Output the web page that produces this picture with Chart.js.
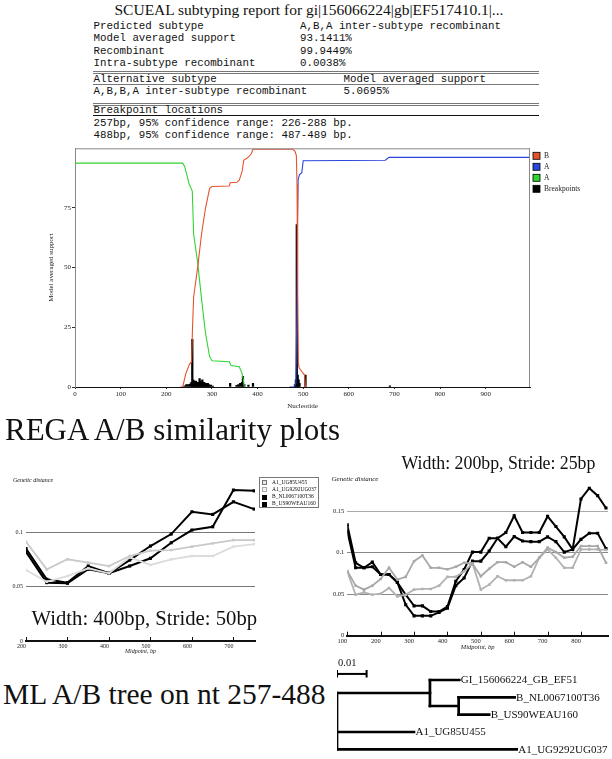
<!DOCTYPE html>
<html><head><meta charset="utf-8">
<script src="https://cdn.jsdelivr.net/npm/chart.js@4.4.1/dist/chart.umd.min.js"></script>
<style>
body{margin:0;background:#fff;width:612px;height:759px;overflow:hidden;position:relative}
.t{position:absolute;white-space:pre;line-height:1;color:#111}
.serif{font-family:"Liberation Serif","Times New Roman",serif}
.mono{font-family:"Liberation Mono","Courier New",monospace;font-size:10.8px}
.rule{position:absolute;left:93px;width:446px}
canvas{position:absolute}
#simLegend{position:absolute;left:259px;top:476.5px;width:58px;height:29px;border:1px solid #777;background:#fff}
</style></head><body>

<div class="t serif" style="left:0;width:618px;text-align:center;top:2.3px;font-size:15.5px">SCUEAL subtyping report for gi|156066224|gb|EF517410.1|...</div>
<div class="t mono" style="left:93.5px;top:20.6px">Predicted subtype</div>
<div class="t mono" style="left:300px;top:20.6px">A,B,A inter-subtype recombinant</div>
<div class="t mono" style="left:93.5px;top:32.6px">Model averaged support</div>
<div class="t mono" style="left:300px;top:32.6px">93.1411%</div>
<div class="t mono" style="left:93.5px;top:45.9px">Recombinant</div>
<div class="t mono" style="left:300px;top:45.9px">99.9449%</div>
<div class="t mono" style="left:93.5px;top:57.6px">Intra-subtype recombinant</div>
<div class="t mono" style="left:300px;top:57.6px">0.0038%</div>
<div class="rule" style="top:71px;border-top:3px double #777"></div>
<div class="t mono" style="left:93.5px;top:73.9px">Alternative subtype</div>
<div class="t mono" style="left:343.5px;top:73.9px">Model averaged support</div>
<div class="rule" style="top:84.2px;border-top:1px solid #777"></div>
<div class="t mono" style="left:93.5px;top:85.6px">A,B,B,A inter-subtype recombinant</div>
<div class="t mono" style="left:343.5px;top:85.6px">5.0695%</div>
<div class="rule" style="top:102.5px;border-top:3px double #777"></div>
<div class="t mono" style="left:93.5px;top:104.9px">Breakpoint locations</div>
<div class="rule" style="top:115px;border-top:1.5px solid #111"></div>
<div class="t mono" style="left:93.5px;top:117.6px">257bp, 95% confidence range: 226-288 bp.</div>
<div class="t mono" style="left:93.5px;top:129.9px">488bp, 95% confidence range: 487-489 bp.</div>

<canvas id="top" width="612" height="280" style="left:0;top:140px"></canvas>

<div class="t serif" style="left:5px;top:414px;font-size:31px">REGA A/B similarity plots</div>

<canvas id="left" width="262" height="190" style="left:0;top:470px"></canvas>
<canvas id="right" width="312" height="190" style="left:300px;top:470px"></canvas>
<div class="t serif" style="left:13px;top:477px;font-size:6px;font-style:italic">Genetic distance</div>
<div class="t serif" style="left:331.5px;top:476px;font-size:7px;font-style:italic">Genetic distance</div>
<div class="t serif" style="left:31.5px;top:608.2px;font-size:20.7px">Width: 400bp, Stride: 50bp</div>
<div class="t serif" style="left:401.5px;top:454.6px;font-size:17.8px">Width: 200bp, Stride: 25bp</div>
<div id="simLegend"></div>

<div class="t serif" style="left:3px;top:680px;font-size:29.5px">ML A/B tree on nt 257-488</div>
<canvas id="tree" width="282" height="105" style="left:330px;top:654px"></canvas>

<script>
// ---- SCUEAL support curves (nucleotide, % support)
var bX = [230, 236, 243, 251, 255.5, 257.5, 260, 269, 277.5, 286, 295, 300, 338, 340, 355, 360, 366, 370, 377, 386, 390, 477, 482, 485, 486.5, 488, 489.5, 491, 497, 503, 505];
var bY = [0, 0, 5.7, 9.6, 10.6, 25, 37.8, 50.4, 64.4, 74.9, 83.2, 84, 84.2, 85.6, 85.8, 86.7, 90.2, 95.1, 95.8, 97.6, 99.6, 99.6, 98.8, 97, 85, 40, 10, 8, 6.5, 5, 0];
var aX = [470, 480, 484, 486, 487.5, 489, 492, 497, 500, 680, 688, 1000];
var aY = [0, 0, 1.5, 30, 70, 87, 89, 89.8, 94.8, 95, 96.2, 96.2];
var gX = [0, 236, 240, 245, 250, 255, 257, 260, 269, 277.5, 286, 295, 300, 338, 342, 360, 366, 369, 371];
var gY = [93.8, 93.8, 92.5, 89, 85, 83, 82, 64, 51.8, 36.5, 22.5, 12.7, 11, 10.6, 9, 8.5, 5.7, 3, 0];
var bpX = [240, 244, 248, 252, 255, 257, 259, 261, 263, 265, 267, 269, 271, 273, 275, 277, 279, 281, 283, 285, 287, 289, 291, 293, 295, 298, 302, 340, 354, 358, 362, 366, 368, 371, 380, 390, 482, 484, 486, 488, 490, 492, 505, 690];
var bpY = [0.5, 1, 1, 1.2, 2, 20, 3, 2.5, 2, 2.5, 2, 1.5, 2, 3.5, 2.5, 2, 3, 1.5, 2, 1.5, 1.5, 1.2, 1.5, 1, 0.8, 0.8, 0.4, 1.5, 0.7, 1, 1.5, 2, 4.5, 1, 0.8, 1.5, 1, 3, 68, 5, 3, 1.5, 5, 0.5];
var topLabels = ['B', 'A', 'A', 'Breakpoints'];
var topColors = ['#e4522e', '#2b46de', '#31d431', '#000000'];
var topXTicks = [0, 100, 200, 300, 400, 500, 600, 700, 800, 900];
var topYTicks = [0, 25, 50, 75];

// ---- REGA similarity plots (midpoint bp, genetic distance)
var simNames = ['A1_UG85U455', 'A1_UG9292UG037', 'B_NL0067100T36', 'B_US90WEAU160'];
var leftX = [200, 250, 300, 350, 400, 450, 500, 550, 600, 650, 700, 750];
var leftA1a = [0.0914, 0.066, 0.0752, 0.0721, 0.069, 0.0782, 0.0831, 0.0837, 0.0868, 0.0899, 0.0929, 0.0929];
var leftA1b = [0.0654, 0.0546, 0.0598, 0.0669, 0.0623, 0.077, 0.070, 0.0752, 0.0782, 0.0782, 0.0868, 0.0892];
var leftBa = [0.085, 0.0568, 0.0537, 0.0690, 0.0623, 0.0745, 0.0874, 0.0984, 0.1189, 0.1165, 0.1281, 0.1214];
var leftBb = [0.082, 0.0537, 0.0531, 0.0660, 0.0623, 0.0690, 0.0761, 0.0904, 0.1021, 0.1051, 0.1389, 0.1382];
var leftXTicks = [200, 300, 400, 500, 600, 700];
var leftYTicks = [0, 0.05, 0.1];

var rightX = [100, 125, 150, 175, 200, 225, 250, 275, 300, 325, 350, 375, 400, 425, 450, 475, 500, 525, 550, 575, 600, 625, 650, 675, 700, 725, 750, 775, 800, 825, 850, 875];
var rightA1a = [0.078, 0.0603, 0.0555, 0.0603, 0.0684, 0.0818, 0.0676, 0.0709, 0.0898, 0.0967, 0.0818, 0.0818, 0.08, 0.083, 0.0879, 0.087, 0.0716, 0.0806, 0.0886, 0.0886, 0.083, 0.0886, 0.083, 0.0939, 0.1061, 0.1007, 0.0939, 0.0951, 0.108, 0.108, 0.108, 0.0879];
var rightA1b = [0.077, 0.0494, 0.0522, 0.0494, 0.0506, 0.0575, 0.0473, 0.0494, 0.0555, 0.0563, 0.0563, 0.0603, 0.0709, 0.0709, 0.0777, 0.087, 0.0555, 0.0615, 0.0716, 0.0668, 0.0668, 0.0668, 0.0716, 0.0939, 0.104, 0.0939, 0.0818, 0.0818, 0.104, 0.104, 0.104, 0.1032];
var rightBa = [0.1335, 0.0879, 0.0818, 0.0886, 0.0737, 0.0737, 0.0643, 0.0494, 0.036, 0.036, 0.0291, 0.0291, 0.0352, 0.0656, 0.0797, 0.1007, 0.1007, 0.1174, 0.1174, 0.1243, 0.1444, 0.1243, 0.1243, 0.1243, 0.1437, 0.1315, 0.119, 0.104, 0.1647, 0.1777, 0.1687, 0.1538];
var rightBb = [0.1262, 0.0818, 0.0818, 0.083, 0.0737, 0.0737, 0.0643, 0.0373, 0.0239, 0.0239, 0.0239, 0.028, 0.0332, 0.0603, 0.0696, 0.0898, 0.0898, 0.102, 0.1174, 0.1073, 0.1194, 0.1141, 0.1133, 0.1133, 0.119, 0.1133, 0.1007, 0.104, 0.1161, 0.1234, 0.1234, 0.1049];
var rightXTicks = [100, 200, 300, 400, 500, 600, 700, 800];
var rightYTicks = [0, 0.05, 0.1, 0.15];

// ---- ML tree (branch lengths from root)
var leafNames = ['GI_156066224_GB_EF51', 'B_NL0067100T36', 'B_US90WEAU160', 'A1_UG85U455', 'A1_UG9292UG037'];
var leafRows = [0, 1, 2, 3, 4];
var leafDepths = [0.0413, 0.0600, 0.0514, 0.0260, 0.0607];
var leafParent = [1, 2, 2, 0, 0];
var nodeDepths = [0, 0.0314, 0.0411];
var nodeParent = [-1, 0, 1];

var serif = '"Liberation Serif","Times New Roman",serif';
Chart.defaults.font.family = serif;
Chart.defaults.color = '#222';
Chart.defaults.animation = false;

function pts(xs, ys) {
    return xs.map(function (x, i) { return {x: x, y: ys[i]}; });
}
function fixTicks(list) {
    return function (s) { s.ticks = list.map(function (v) { return {value: v}; }); };
}

// frame + legend for the support chart
var topExtras = {
    id: 'topExtras',
    afterDraw: function (chart) {
        var ctx = chart.ctx, a = chart.chartArea;
        ctx.save();
        ctx.strokeStyle = '#888';
        ctx.lineWidth = 1;
        ctx.beginPath();
        ctx.moveTo(a.left, a.top + 0.5); ctx.lineTo(a.right, a.top + 0.5);
        ctx.moveTo(a.right - 0.5, a.top); ctx.lineTo(a.right - 0.5, a.bottom);
        ctx.stroke();
        ctx.font = '7.5px ' + serif;
        ctx.textBaseline = 'middle';
        chart.data.datasets.forEach(function (d, i) {
            var y = a.top + 4 + i * 11;
            ctx.fillStyle = topColors[i];
            ctx.fillRect(a.right + 3, y, 7, 7);
            ctx.strokeStyle = '#000';
            ctx.lineWidth = 0.8;
            ctx.strokeRect(a.right + 3, y, 7, 7);
            ctx.fillStyle = '#222';
            ctx.fillText(d.label, a.right + 14, y + 3.8);
        });
        ctx.restore();
    }
};

var lineStyle = function (i) {
    return {label: topLabels[i], borderColor: topColors[i], backgroundColor: topColors[i], borderWidth: 1.1, pointRadius: 0, tension: 0};
};

new Chart(document.getElementById('top'), {
    type: 'line',
    data: {
        datasets: [
            Object.assign({data: pts(bX, bY)}, lineStyle(0)),
            Object.assign({data: pts(aX, aY)}, lineStyle(1)),
            Object.assign({data: pts(gX, gY)}, lineStyle(2)),
            {type: 'bar', label: topLabels[3], data: pts(bpX, bpY), backgroundColor: topColors[3], barThickness: 1.6, grouped: false}
        ]
    },
    options: {
        responsive: false,
        layout: {padding: {left: 0, right: 82, top: 8.3, bottom: 3}},
        plugins: {legend: {display: false}, tooltip: {enabled: false}},
        scales: {
            x: {
                type: 'linear', min: 0, max: 997, offset: false,
                afterFit: function (s) { s.height = 30; },
                afterBuildTicks: fixTicks(topXTicks),
                grid: {drawOnChartArea: false, tickLength: 2, color: '#333', offset: false},
                border: {color: '#111'},
                ticks: {padding: 1, font: {size: 7}, maxRotation: 0},
                title: {display: true, text: 'Nucleotide', font: {size: 7}, padding: {top: 0, bottom: 6.8}}
            },
            y: {
                min: 0, max: 100,
                afterFit: function (s) { s.width = 75; },
                afterBuildTicks: fixTicks(topYTicks),
                grid: {drawOnChartArea: false, tickLength: 3, color: '#333'},
                border: {color: '#888'},
                ticks: {padding: 1, font: {size: 7}},
                title: {display: true, text: 'Model averaged support', font: {size: 7}, padding: {top: 47, bottom: 0}}
            }
        }
    },
    plugins: [topExtras]
});

// small tick marks pointing up from the x axis
var upTicks = {
    id: 'upTicks',
    afterDraw: function (chart) {
        var s = chart.scales.x, ctx = chart.ctx;
        ctx.save();
        ctx.strokeStyle = '#111';
        ctx.lineWidth = 1;
        s.ticks.forEach(function (t) {
            var px = Math.round(s.getPixelForValue(t.value)) + 0.5;
            ctx.beginPath(); ctx.moveTo(px, s.top); ctx.lineTo(px, s.top - 4); ctx.stroke();
        });
        ctx.restore();
    }
};

function simSet(name, xs, ys, color, black) {
    return {
        label: name, data: pts(xs, ys), borderColor: color, backgroundColor: color,
        borderWidth: black ? 2 : 1.8, pointStyle: 'rect', pointRadius: black ? 2.2 : 1.8,
        pointBorderWidth: 0, tension: 0
    };
}

function simChart(id, sets, xr, yr, xTicks, yTicks, yW, xH, padR, titlePad, gridCol, fs) {
    return new Chart(document.getElementById(id), {
        type: 'line',
        data: {datasets: sets},
        options: {
            responsive: false,
            layout: {padding: {left: 0, right: padR, top: 8, bottom: 0}},
            plugins: {legend: {display: false}, tooltip: {enabled: false}},
            scales: {
                x: {
                    type: 'linear', min: xr[0], max: xr[1],
                    afterFit: function (s) { s.height = xH; },
                    afterBuildTicks: fixTicks(xTicks),
                    grid: {display: false, drawTicks: false},
                    border: {color: '#111', width: 2},
                    ticks: {align: 'end', padding: 2, font: {size: fs}, maxRotation: 0},
                    title: {display: true, text: 'Midpoint, bp', font: {size: fs, style: 'italic'}, padding: {top: 0, bottom: titlePad}}
                },
                y: {
                    min: yr[0], max: yr[1],
                    afterFit: function (s) { s.width = yW; },
                    afterBuildTicks: fixTicks(yTicks),
                    grid: {drawTicks: false, color: gridCol},
                    border: {display: false},
                    ticks: {padding: 3, font: {size: fs}, callback: function (v) { return String(v); }}
                }
            }
        },
        plugins: [upTicks]
    });
}

var leftGrays = ['#c9c9c9', '#dcdcdc'];
var rightGrays = ['#a8a8a8', '#b2b2b2'];

simChart('left', [
    simSet(simNames[0], leftX, leftA1a, leftGrays[0], false),
    simSet(simNames[1], leftX, leftA1b, leftGrays[1], false),
    simSet(simNames[2], leftX, leftBa, '#000', true),
    simSet(simNames[3], leftX, leftBb, '#000', true)
], [200, 752], [0, 0.15], leftXTicks, leftYTicks, 26, 19, 7, 4.7,
    function (c) { return c.tick.value === 0 ? 'rgba(0,0,0,0)' : '#777'; }, 6);

simChart('right', [
    simSet(simNames[0], rightX, rightA1a, rightGrays[0], false),
    simSet(simNames[1], rightX, rightA1b, rightGrays[1], false),
    simSet(simNames[2], rightX, rightBa, '#000', true),
    simSet(simNames[3], rightX, rightBb, '#000', true)
], [100, 881], [0, 0.19], rightXTicks, rightYTicks, 47.3, 24.3, 3, 9.1,
    function (c) { return c.tick.value === 0 ? 'rgba(0,0,0,0)' : (c.tick.value === 0.15 ? '#aaa' : '#888'); }, 6.5);

// legend shared by both similarity plots
var leg = document.getElementById('simLegend');
var legFill = ['#e6e6e6', '#f2f2f2', '#000', '#000'];
var legLine = ['#777', '#aaa', '#000', '#000'];
simNames.forEach(function (n, i) {
    var y = 2.5 + i * 7.3;
    leg.innerHTML += '<div style="position:absolute;left:1.5px;top:' + y + 'px;width:3px;height:3px;background:' + legFill[i] + ';border:0.8px solid ' + legLine[i] + '"></div>' +
        '<div class="t serif" style="left:12px;top:' + (y - 0.5) + 'px;font-size:5.5px">' + n + '</div>';
});

// ---- tree
var nodeRows = [0, 0, 0];
var nodeSpan = [];
for (var k = nodeDepths.length - 1; k >= 0; k--) {
    var rows = [];
    leafParent.forEach(function (p, i) { if (p === k) rows.push(leafRows[i]); });
    nodeParent.forEach(function (p, j) { if (p === k) rows.push(nodeRows[j]); });
    nodeSpan[k] = [Math.min.apply(null, rows), Math.max.apply(null, rows)];
    nodeRows[k] = (nodeSpan[k][0] + nodeSpan[k][1]) / 2;
}
var segs = [];
leafNames.forEach(function (n, i) {
    segs.push([[nodeDepths[leafParent[i]], leafRows[i]], [leafDepths[i], leafRows[i]]]);
});
nodeDepths.forEach(function (d, k) {
    if (nodeParent[k] >= 0) segs.push([[nodeDepths[nodeParent[k]], nodeRows[k]], [d, nodeRows[k]]]);
    segs.push([[d, nodeSpan[k][0]], [d, nodeSpan[k][1]]]);
});
var barSegs = [[[0, -0.35], [0.01, -0.35]], [[0, -0.58], [0, -0.14]], [[0.01, -0.58], [0.01, -0.14]]];

var treeText = {
    id: 'treeText',
    afterDatasetsDraw: function (chart) {
        var ctx = chart.ctx, x = chart.scales.x, y = chart.scales.y;
        ctx.save();
        ctx.fillStyle = '#111';
        ctx.textBaseline = 'middle';
        ctx.font = '11px ' + serif;
        leafNames.forEach(function (n, i) {
            ctx.fillText(n, x.getPixelForValue(leafDepths[i]) + 1.5, y.getPixelForValue(leafRows[i]) + 0.5);
        });
        ctx.font = '10.5px ' + serif;
        ctx.fillText('0.01', x.getPixelForValue(0) + 1, y.getPixelForValue(-0.97));
        ctx.restore();
    }
};

new Chart(document.getElementById('tree'), {
    type: 'scatter',
    data: {
        datasets: segs.map(function (s) {
            return {data: s.map(function (p) { return {x: p[0], y: p[1]}; }), showLine: true, borderColor: '#000', borderWidth: 2.7, pointRadius: 0, borderCapStyle: 'square'};
        }).concat(barSegs.map(function (s) {
            return {data: s.map(function (p) { return {x: p[0], y: p[1]}; }), showLine: true, borderColor: '#000', borderWidth: 2, pointRadius: 0};
        }))
    },
    options: {
        responsive: false,
        layout: {padding: {left: 7, right: 0, top: 0, bottom: 1}},
        plugins: {legend: {display: false}, tooltip: {enabled: false}},
        scales: {
            x: {display: false, min: 0, max: 0.0929},
            y: {display: false, min: -1.5, max: 4.5, reverse: true}
        }
    },
    plugins: [treeText]
});
</script>
</body></html>
